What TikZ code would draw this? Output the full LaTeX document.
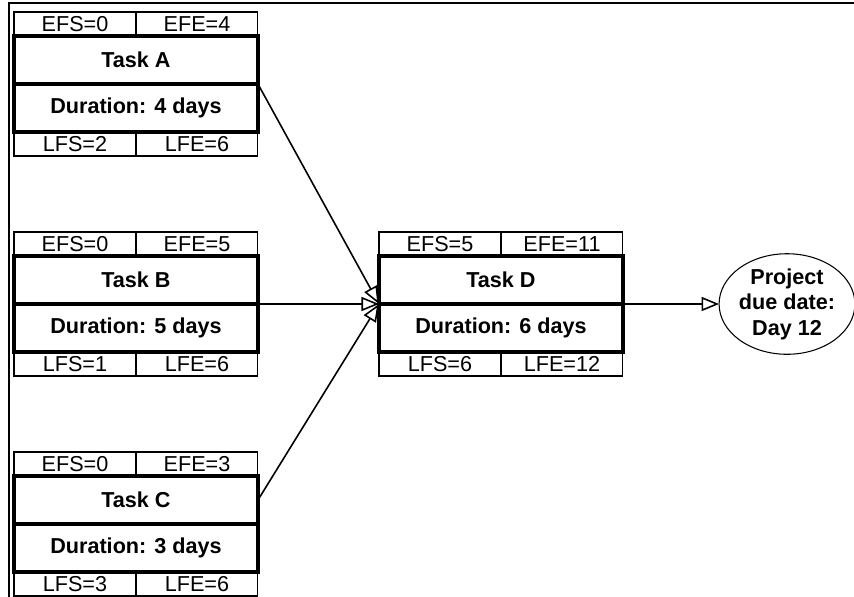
\documentclass[tikz,border=0pt]{standalone}
\usepackage{fontspec}
\setmainfont{Liberation Sans}
\usetikzlibrary{arrows.meta,shapes.geometric}
\tikzset{
	cell/.style={draw, line width=0.6pt, minimum width=2.44cm, minimum height=0.48cm, inner sep=0pt, outer sep=0pt, font=\fontsize{12.3}{14}\selectfont},
	half/.style={draw, line width=2pt, minimum width=4.88cm, minimum height=0.96cm, inner sep=0pt, outer sep=0pt, font=\fontsize{12.3}{14}\selectfont\bfseries},
	flow/.style={line width=0.9pt, -{Triangle[open, length=10pt, width=8pt]}},
	due/.style={draw, ellipse, line width=0.6pt, minimum width=2.68cm, minimum height=1.94cm, inner sep=0pt, outer sep=0pt, align=center, font=\fontsize{12.3}{14.5}\selectfont\bfseries}
}
% task box: name, x, y (top left of thick box), title, duration, EFS, EFE, LFS, LFE
\newcommand{\taskbox}[9]{%
	\coordinate (#1-nw) at (#2,#3);
	\node[cell, anchor=south west] (#1-efs) at (#1-nw) {#6};
	\node[cell, anchor=south west] (#1-efe) at (#1-efs.south east) {#7};
	\node[cell, anchor=north west] (#1-lfs) at ([yshift=-1.92cm]#1-nw) {#8};
	\node[cell, anchor=north west] (#1-lfe) at (#1-lfs.north east) {#9};
	\node[half, anchor=north west] (#1) at (#1-nw) {#4};
	\node[half, anchor=north] (#1-dur) at (#1.south) {#5};
}

\begin{document}
\begin{tikzpicture}[x=0.02cm, y=-0.02cm]
		%%%%% START %%%%%
		\useasboundingbox (0,0) rectangle (854,596);
		
		% frame
		\draw[line width=1.2pt] (9,600) -- (9,3) -- (860,3);
		
		\taskbox{A}{14}{36}{Task A}{Duration: 4 days}{EFS=0}{EFE=4}{LFS=2}{LFE=6}
		\taskbox{B}{14}{256}{Task B}{Duration: 5 days}{EFS=0}{EFE=5}{LFS=1}{LFE=6}
		\taskbox{C}{14}{476}{Task C}{Duration: 3 days}{EFS=0}{EFE=3}{LFS=3}{LFE=6}
		\taskbox{D}{379}{256}{Task D}{Duration: 6 days}{EFS=5}{EFE=11}{LFS=6}{LFE=12}
		
		\node[due] (end) at (787,304) {Project\\due date:\\Day 12};
		
		% arrows
		\draw[flow] (A.south east) -- (D.south west);
		\draw[flow] (B.south east) -- (D.south west);
		\draw[flow] (C.east) -- (D.south west);
		\draw[flow] (D.south east) -- (end.west);
		
		%%%%% END %%%%%
	\end{tikzpicture}
\end{document}
